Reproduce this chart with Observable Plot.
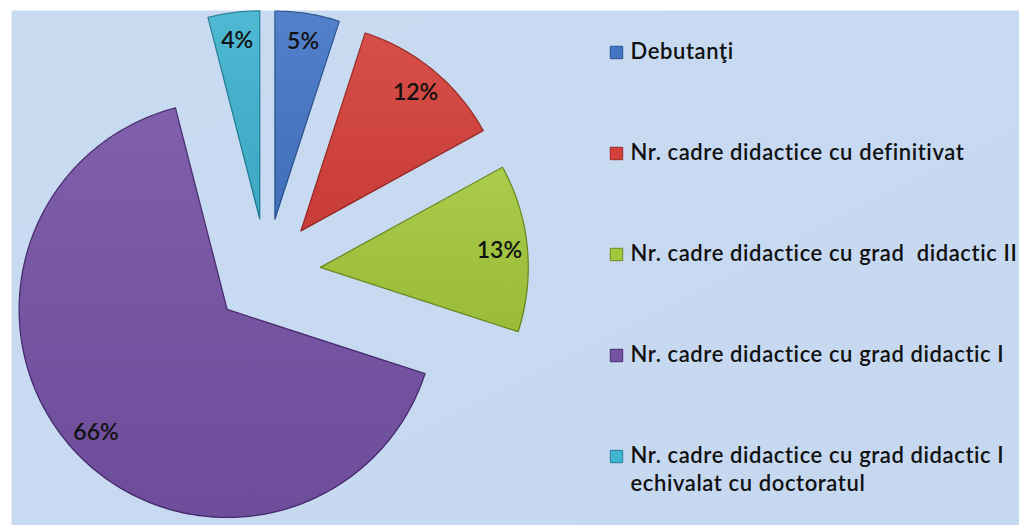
<!DOCTYPE html>
<html>
<head>
<meta charset="utf-8">
<script src="https://cdn.jsdelivr.net/npm/d3@7"></script>
<script src="https://cdn.jsdelivr.net/npm/@observablehq/plot@0.6"></script>
<style>
  html, body { margin: 0; padding: 0; background: #fff; }
  #chart svg { display: block; }
</style>
</head>
<body>
<div id="chart"></div>
<script>
// ---- data ----
const categories = [
  "Debutanţi",
  "Nr. cadre didactice cu definitivat",
  "Nr. cadre didactice cu grad  didactic II",
  "Nr. cadre didactice cu grad didactic I",
  "Nr. cadre didactice cu grad didactic I\nechivalat cu doctoratul"
];
const values = [5, 12, 13, 66, 4];
const colors = ["#4576C6", "#D5403A", "#A4C83C", "#7552A4", "#40B3CF"];
const edgeColors = ["#2A5290", "#9A2924", "#6A8A20", "#45296E", "#227E98"];

// ---- layout ----
const W = 1019, H = 525;
const cx = 266, cy = 272, R = 208, explode = 54, labelR = 0.865;
const legX = 616, legTextX = 630, legY0 = 52, legStep = 101;
const legFont = 22, legLine = 28;

const total = d3.sum(values);
const slices = [];
const polys = [];
let acc = 0;
values.forEach((v, i) => {
  const a0 = acc / total * 2 * Math.PI;
  acc += v;
  const a1 = acc / total * 2 * Math.PI;
  const mid = (a0 + a1) / 2;
  const ox = cx + explode * Math.sin(mid);
  const oy = cy - explode * Math.cos(mid);
  polys.push({key: i, x: ox, y: oy, color: colors[i], edge: edgeColors[i]});
  const n = Math.max(4, Math.ceil((a1 - a0) / (Math.PI / 180)));
  for (let k = 0; k <= n; k++) {
    const a = a0 + (a1 - a0) * k / n;
    polys.push({key: i, x: ox + R * Math.sin(a), y: oy - R * Math.cos(a), color: colors[i], edge: edgeColors[i]});
  }
  slices.push({
    key: i,
    label: `${v}%`,
    lx: ox + labelR * R * Math.sin(mid),
    ly: oy - labelR * R * Math.cos(mid)
  });
});

const legend = categories.map((c, i) => ({
  name: c,
  color: colors[i],
  edge: edgeColors[i],
  y: legY0 + i * legStep,
  lines: c.split("\n").length
}));

const plot = Plot.plot({
  width: W,
  height: H,
  margin: 0,
  x: {domain: [0, W], range: [0, W], axis: null},
  y: {domain: [0, H], range: [0, H], axis: null},
  style: {fontFamily: "Lato, 'Open Sans', sans-serif", background: "#fff"},
  marks: [
    Plot.frame({fill: "url(#bggrad)", stroke: "none", insetLeft: 11, insetTop: 10}),
    Plot.line(polys, {
      x: "x", y: "y", z: "key",
      fill: "color", stroke: "edge",
      strokeWidth: 1.3, curve: "linear-closed", strokeLinejoin: "round"
    }),
    Plot.line(polys, {
      x: "x", y: "y", z: "key",
      fill: "url(#shade)", stroke: "none",
      curve: "linear-closed"
    }),
    Plot.text(slices, {
      x: "lx", y: "ly", text: "label",
      fontSize: 23, fontWeight: 600, fill: "#111"
    }),
    Plot.dot(legend, {
      x: () => legX, y: "y", symbol: "square", r: 7,
      fill: "color", stroke: "edge", strokeWidth: 1
    }),
    Plot.text(legend, {
      x: () => legTextX, y: d => d.y - 2 + (d.lines - 1) * legLine / 2, text: "name",
      textAnchor: "start", lineAnchor: "middle", lineHeight: legLine / legFont,
      fontSize: legFont, fontWeight: 600, fill: "#111"
    })
  ]
});

const svg = d3.select(plot);
// widen legend lettering slightly to match the reference's wider face
svg.selectAll('g[aria-label="text"]').filter((d, i) => i === 1)
  .style("letter-spacing", "0.6px");

// gradients for background and subtle slice shading
const defs = svg.insert("defs", ":first-child");
const bg = defs.append("linearGradient").attr("id", "bggrad")
  .attr("x1", "0").attr("y1", "0").attr("x2", "1").attr("y2", "1");
bg.append("stop").attr("offset", "0%").attr("stop-color", "#C9DBF1");
bg.append("stop").attr("offset", "100%").attr("stop-color", "#C6D8F0");
const sh = defs.append("linearGradient").attr("id", "shade")
  .attr("x1", "0").attr("y1", "0").attr("x2", "0").attr("y2", "1");
sh.append("stop").attr("offset", "0%").attr("stop-color", "#fff").attr("stop-opacity", 0.08);
sh.append("stop").attr("offset", "100%").attr("stop-color", "#000").attr("stop-opacity", 0.06);

document.getElementById("chart").appendChild(plot);
</script>
</body>
</html>
